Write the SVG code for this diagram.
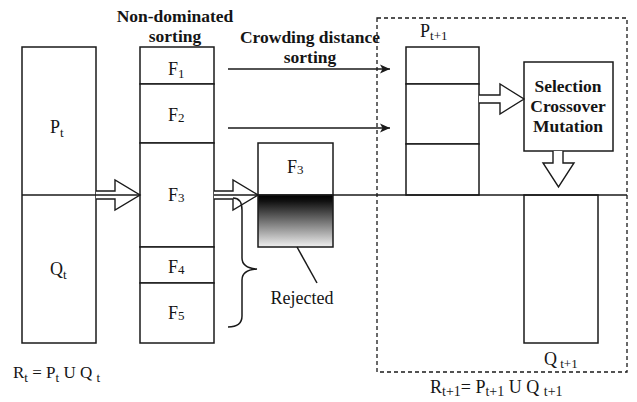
<svg xmlns="http://www.w3.org/2000/svg" width="637" height="402" viewBox="0 0 637 402" font-family="'Liberation Serif', 'DejaVu Serif', serif">
<defs>
<style>
.box{fill:#fff;stroke:#1a1a1a;stroke-width:1.5}
.ln{fill:none;stroke:#1a1a1a;stroke-width:1.5}
.hollow{fill:#fff;stroke:#1a1a1a;stroke-width:1.4;stroke-linejoin:miter}
.t{font-family:'Liberation Serif','DejaVu Serif',serif;fill:#151515}
.lbl{font-size:18px}
.bold{font-size:17.5px;font-weight:bold}
.sub{font-size:13px}
</style>
<linearGradient id="grad" x1="0" y1="0" x2="0" y2="1">
<stop offset="0" stop-color="#000"/>
<stop offset="0.12" stop-color="#111"/>
<stop offset="1" stop-color="#f0f0f0"/>
</linearGradient>
<marker id="ah" viewBox="0 0 10 10" refX="10" refY="5" markerWidth="10" markerHeight="10" markerUnits="userSpaceOnUse" orient="auto">
<path d="M0,0.5 L10,5 L0,9.5 L2.5,5 Z" fill="#1a1a1a"/>
</marker>
</defs>
<rect width="637" height="402" fill="#fff"/>

<g id="population-R">
<rect class="box" x="22" y="47" width="74" height="296"/>
<text class="t lbl" x="50" y="133">P<tspan class="sub" dy="4">t</tspan></text>
<text class="t lbl" x="50" y="275">Q<tspan class="sub" dy="4">t</tspan></text>
<text class="t" x="13" y="378" font-size="17">R<tspan class="sub" dy="4">t</tspan><tspan dy="-4"> = P</tspan><tspan class="sub" dy="4">t</tspan><tspan dy="-4"> U Q </tspan><tspan class="sub" dy="4">t</tspan></text>
</g>

<g id="fronts">
<rect class="box" x="140" y="47" width="74" height="37"/>
<rect class="box" x="140" y="84" width="74" height="59"/>
<rect class="box" x="140" y="143" width="74" height="104"/>
<rect class="box" x="140" y="247" width="74" height="36"/>
<rect class="box" x="140" y="283" width="74" height="60"/>
<text class="t lbl" x="168" y="75">F<tspan class="sub" dy="3">1</tspan></text>
<text class="t lbl" x="168" y="121">F<tspan class="sub" dy="1">2</tspan></text>
<text class="t lbl" x="168" y="201">F<tspan class="sub" dy="1">3</tspan></text>
<text class="t lbl" x="168" y="273">F<tspan class="sub" dy="1">4</tspan></text>
<text class="t lbl" x="168" y="319">F<tspan class="sub" dy="1">5</tspan></text>
<text class="t bold" x="175" y="22" text-anchor="middle">Non-dominated</text>
<text class="t bold" x="175" y="42" text-anchor="middle">sorting</text>
</g>

<g id="crowding-label">
<text class="t bold" x="310" y="43" text-anchor="middle">Crowding distance</text>
<text class="t bold" x="310" y="63" text-anchor="middle">sorting</text>
</g>

<g id="rejected-front">
<rect class="box" x="258" y="143" width="75" height="52"/>
<rect x="258" y="195" width="75" height="52" fill="url(#grad)" stroke="#1a1a1a" stroke-width="1.5"/>
<text class="t lbl" x="287" y="173">F<tspan class="sub" dy="1">3</tspan></text>
<text class="t lbl" x="302" y="304" text-anchor="middle">Rejected</text>
</g>

<g id="next-generation">
<rect x="377" y="18" width="250" height="354" fill="none" stroke="#1a1a1a" stroke-width="1.3" stroke-dasharray="4 3"/>
<text class="t" x="430" y="393" font-size="18">R<tspan font-size="14" dy="3">t+1</tspan><tspan dy="-3">= P</tspan><tspan font-size="14" dy="3">t+1</tspan><tspan dy="-3"> U Q </tspan><tspan font-size="14" dy="3">t+1</tspan></text>
</g>

<g id="P-next">
<rect class="box" x="406" y="47" width="73" height="37"/>
<rect class="box" x="406" y="84" width="73" height="60"/>
<rect class="box" x="406" y="144" width="73" height="51"/>
<text class="t lbl" x="420" y="37">P<tspan class="sub" dy="3">t+1</tspan></text>
</g>

<g id="selection">
<rect class="box" x="524" y="62" width="89" height="89"/>
<text class="t bold" x="568" y="92" text-anchor="middle">Selection</text>
<text class="t bold" x="568" y="112" text-anchor="middle">Crossover</text>
<text class="t bold" x="568" y="132" text-anchor="middle">Mutation</text>
</g>

<g id="Q-next">
<rect class="box" x="524" y="195" width="74" height="148"/>
<text class="t lbl" x="544" y="365">Q<tspan class="sub" dy="3"> t+1</tspan></text>
</g>

<g id="connectors">
<path class="hollow" d="M96,191 L115,191 L115,180 L140,195 L115,210 L115,199 L96,199"/>
<path class="hollow" d="M214,191 L233,191 L233,180 L258,195 L233,210 L233,199 L214,199"/>
<path class="hollow" d="M479,95 L500,95 L500,84 L524,99 L500,114 L500,103 L479,103"/>
<path class="hollow" d="M553,151 L553,163 L543,163 L558.5,187 L574,163 L563,163 L563,151"/>
<line class="ln" x1="22" y1="195" x2="140" y2="195"/>
<line class="ln" x1="214" y1="195" x2="258" y2="195"/>
<line class="ln" x1="333" y1="195" x2="627" y2="195"/>
<line class="ln" x1="228" y1="69" x2="390" y2="69" marker-end="url(#ah)"/>
<line class="ln" x1="228" y1="128" x2="390" y2="128" marker-end="url(#ah)"/>
<path class="ln" d="M233,198 Q242,198 242,210 L242,258 Q242,268 257,269 Q242,270 242,280 L242,316 Q242,327 228,327"/>
<line class="ln" x1="297" y1="247" x2="317" y2="283" stroke-width="1.2"/>
</g>
</svg>
